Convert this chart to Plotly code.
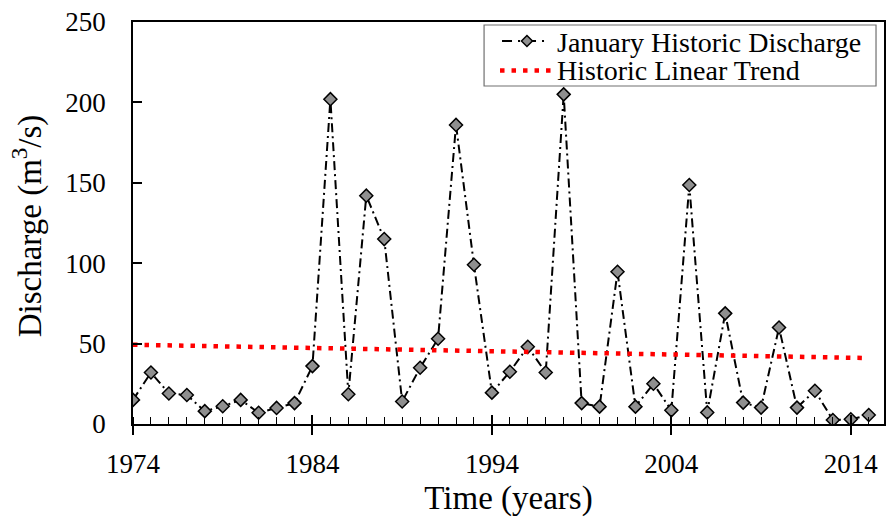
import plotly.graph_objects as go

years = list(range(1974, 2016))
discharge = [15, 32, 19, 18, 8, 11, 15, 7, 10, 13, 36, 202, 18.5, 142, 115,
             14, 35, 53, 186, 99, 19.5, 32.5, 48, 32, 205, 13, 10.8, 94.7,
             10.8, 25, 8.5, 148.6, 7.2, 68.8, 13.3, 10.2, 60, 10.2, 20.7,
             2.5, 2.9, 5.6]
trend_years = [1974, 2015]
trend_values = [49.3, 41.0]
legend_labels = ["January Historic Discharge", "Historic Linear Trend"]
y_title = "Discharge (m<sup>3</sup>/s)"
x_title = "Time (years)"

FONT = "Liberation Serif"
W, H = 888, 523
ML, MR, MT, MB = 133, 2, 22, 99
PW, PH = W - ML - MR, H - MT - MB


def px(xp):
    return (xp - ML) / PW


def py(yp):
    return (H - MB - yp) / PH


MAIN_DASH = "9px,4px,2px,4px"
TREND_DASH = "4.5px,7px"

fig = go.Figure()
fig.add_trace(go.Scatter(
    x=years, y=discharge, mode="lines+markers",
    name=legend_labels[0],
    line=dict(color="black", width=2, dash=MAIN_DASH),
    marker=dict(symbol="diamond", size=10, color="#8f8f8f",
                line=dict(color="black", width=1.5)),
))
fig.add_trace(go.Scatter(
    x=trend_years, y=trend_values, mode="lines",
    name=legend_labels[1],
    line=dict(color="#ff0000", width=4.5, dash=TREND_DASH),
))
# invisible trace to host the overlay axis for crossing major ticks
fig.add_trace(go.Scatter(x=[1974], y=[0], xaxis="x2", mode="markers",
                         marker=dict(opacity=0), showlegend=False,
                         hoverinfo="skip"))

# ---- legend drawn by hand (to match the tight row spacing) ----
shapes = [
    dict(type="rect", xref="paper", yref="paper",
         x0=px(485), x1=px(878), y0=py(86), y1=py(25),
         fillcolor="white", line=dict(color="#707070", width=1.2),
         layer="above"),
    dict(type="line", xref="paper", yref="paper",
         x0=px(503), x1=px(546), y0=py(41), y1=py(41),
         line=dict(color="black", width=2.2, dash="10px,6px,2px,6px"),
         layer="above"),
    dict(type="line", xref="paper", yref="paper",
         x0=px(501), x1=px(552), y0=py(70.5), y1=py(70.5),
         line=dict(color="#ff0000", width=4.5, dash=TREND_DASH),
         layer="above"),
]
cx, cy, dx, dy = px(528), py(41), 5.5 / PW, 5.5 / PH
shapes.append(dict(
    type="path", xref="paper", yref="paper",
    path=f"M {cx},{cy + dy} L {cx + dx},{cy} L {cx},{cy - dy} L {cx - dx},{cy} Z",
    fillcolor="#8f8f8f", line=dict(color="black", width=1.5), layer="above"))

annotations = [
    dict(text=legend_labels[0], xref="paper", yref="paper", x=px(556), y=py(42),
         xanchor="left", yanchor="middle", showarrow=False,
         font=dict(family=FONT, size=28, color="black")),
    dict(text=legend_labels[1], xref="paper", yref="paper", x=px(556), y=py(71),
         xanchor="left", yanchor="middle", showarrow=False,
         font=dict(family=FONT, size=28, color="black")),
    dict(text=y_title, xref="paper", yref="paper", x=px(27), y=py(226),
         xanchor="center", yanchor="middle", textangle=-90, showarrow=False,
         font=dict(family=FONT, size=33, color="black")),
]

xr = [1974, 2015.85]
fig.update_layout(
    width=W, height=H,
    margin=dict(l=ML, r=MR, t=MT, b=MB),
    paper_bgcolor="white", plot_bgcolor="white",
    font=dict(family=FONT, size=27, color="black"),
    showlegend=False,
    shapes=shapes, annotations=annotations,
    xaxis=dict(range=xr, tickmode="linear", tick0=1974, dtick=10,
               ticks="outside", ticklen=9, tickwidth=1.5, tickcolor="black",
               minor=dict(ticks="inside", ticklen=7, tickwidth=1,
                          tickcolor="black", dtick=1, tick0=1974),
               showline=True, linecolor="black", linewidth=1.5, mirror=True,
               showgrid=False, zeroline=False,
               ticklabelstandoff=6,
               title=dict(text=x_title, font=dict(size=33), standoff=8)),
    xaxis2=dict(range=xr, overlaying="x", anchor="y", side="bottom",
                tickmode="linear", tick0=1974, dtick=10,
                ticks="inside", ticklen=9, tickwidth=1.5, tickcolor="black",
                showticklabels=False, showgrid=False, zeroline=False,
                showline=False),
    yaxis=dict(range=[0, 250], tickmode="linear", tick0=0, dtick=50,
               ticks="inside", ticklen=9, tickwidth=1.5, tickcolor="black",
               showline=True, linecolor="black", linewidth=1.5, mirror=True,
               showgrid=False, zeroline=False,
               ticklabelstandoff=20),
)

fig.write_html("out.html")
